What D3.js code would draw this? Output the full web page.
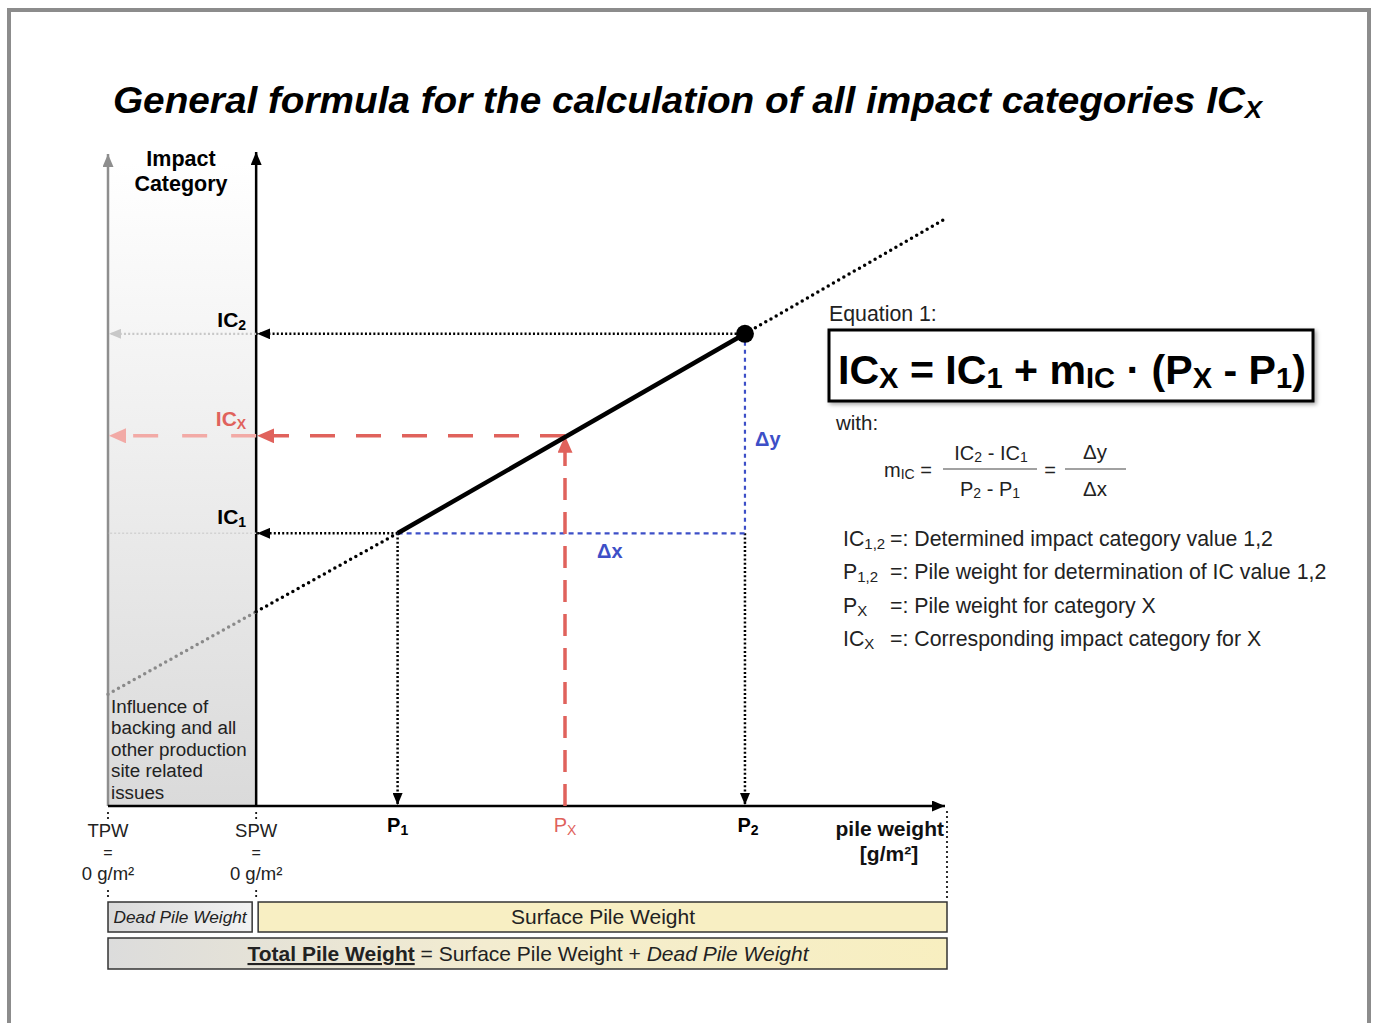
<!DOCTYPE html>
<html><head><meta charset="utf-8">
<script src="https://cdn.jsdelivr.net/npm/d3@7"></script>
<style>
html,body{margin:0;padding:0;background:#fff;}
svg{display:block;font-family:"Liberation Sans",Arial,Helvetica,sans-serif;}
</style></head>
<body>
<svg id="chart" width="1374" height="1023"></svg>
<script>
// ---------- data (arbitrary units) ----------
const pileKeys    = ["TPW", "SPW", "P1", "PX", "P2", "END"];
const pileWeights = [0, 17.7, 34.6, 54.6, 76.1, 100];
const impactKeys   = ["IC1", "ICX", "IC2"];
const impactValues = [41.7, 56.6, 72.2];
// regression line through (P1,IC1) and (P2,IC2) with its dotted extensions
const lineX = [0, 17.7, 34.6, 76.1, 99.8];
const lineY = [17.1, 29.7, 41.7, 72.2, 89.6];
const definitions = [
  {sym:["IC","1,2"], text:"=: Determined impact category value 1,2"},
  {sym:["P","1,2"],  text:"=: Pile weight for determination of IC value 1,2"},
  {sym:["P","X"],    text:"=: Pile weight for category X"},
  {sym:["IC","X"],   text:"=: Corresponding impact category for X"}
];
const influenceText = ["Influence of","backing and all","other production","site related","issues"];

const P = k => pileWeights[pileKeys.indexOf(k)];
const I = k => impactValues[impactKeys.indexOf(k)];

// ---------- scales ----------
const x = d3.scaleLinear().domain([0, 100]).range([108, 945]);
const y = d3.scaleLinear().domain([0, 100]).range([806, 152]);

const svg = d3.select("#chart");
const defs = svg.append("defs");

// gradients
const g1 = defs.append("linearGradient").attr("id","panelGrad").attr("x1",0).attr("y1",0).attr("x2",0).attr("y2",1);
g1.append("stop").attr("offset","0%").attr("stop-color","#ffffff");
g1.append("stop").attr("offset","100%").attr("stop-color","#dadada");
const g2 = defs.append("linearGradient").attr("id","deadGrad").attr("x1",0).attr("y1",0).attr("x2",1).attr("y2",0);
g2.append("stop").attr("offset","0%").attr("stop-color","#dadada");
g2.append("stop").attr("offset","100%").attr("stop-color","#f2f2f2");
const g3 = defs.append("linearGradient").attr("id","totalGrad").attr("x1",0).attr("y1",0).attr("x2",1).attr("y2",0);
g3.append("stop").attr("offset","0%").attr("stop-color","#dcdcdc");
g3.append("stop").attr("offset","45%").attr("stop-color","#f3ecd0");
g3.append("stop").attr("offset","100%").attr("stop-color","#f8efc0");
const sh = defs.append("filter").attr("id","shadow").attr("x","-5%").attr("y","-10%").attr("width","115%").attr("height","130%");
sh.append("feDropShadow").attr("dx",2).attr("dy",2).attr("stdDeviation",2).attr("flood-color","#000").attr("flood-opacity",0.35);

function marker(id, color, w, h){
  defs.append("marker").attr("id",id)
    .attr("viewBox",`0 0 ${w} ${h}`).attr("refX",w).attr("refY",h/2)
    .attr("markerWidth",w).attr("markerHeight",h)
    .attr("markerUnits","userSpaceOnUse").attr("orient","auto")
    .append("path").attr("d",`M0,0L${w},${h/2}L0,${h}Z`).attr("fill",color);
}
marker("arrBlack","#000",13,11);
marker("arrBlackSm","#000",12,10);
marker("arrGray","#8e8e8e",13,11);
marker("arrLight","#c8c8c8",12,10);
marker("arrRed","#e0625c",17,15);
marker("arrPink","#f2aaa6",17,15);

// frame
svg.append("path").attr("d","M9,1023V10H1369V1023").attr("fill","none").attr("stroke","#8c8c8c").attr("stroke-width",4);

// title
const title = svg.append("text").attr("x",113).attr("y",113)
  .attr("font-size",36).attr("font-weight","bold").attr("font-style","italic").attr("fill","#000");
title.append("tspan").text("General formula for the calculation of all impact categories IC");
title.append("tspan").attr("font-size",24).attr("dy",5).text("X");
{
  const w = title.node().getBBox().width, target = 1152;
  title.attr("transform",`translate(113,0) scale(${target/w},1) translate(-113,0)`);
}

// shaded panel between TPW and SPW
svg.append("rect").attr("x",x(P("TPW"))).attr("y",y(98.5)).attr("width",x(P("SPW"))-x(P("TPW"))).attr("height",y(0)-y(98.5))
  .attr("fill","url(#panelGrad)");

// gray TPW axis
svg.append("line").attr("x1",x(P("TPW"))).attr("x2",x(P("TPW"))).attr("y1",y(0)).attr("y2",y(100)+2)
  .attr("stroke","#8e8e8e").attr("stroke-width",2.5).attr("marker-end","url(#arrGray)");
// SPW y-axis
svg.append("line").attr("x1",x(P("SPW"))).attr("x2",x(P("SPW"))).attr("y1",y(0)+1).attr("y2",y(100))
  .attr("stroke","#000").attr("stroke-width",2.5).attr("marker-end","url(#arrBlack)");
// x-axis
svg.append("line").attr("x1",x(P("TPW"))).attr("x2",x(P("END"))).attr("y1",y(0)).attr("y2",y(0))
  .attr("stroke","#000").attr("stroke-width",2.5).attr("marker-end","url(#arrBlack)");

// ---- horizontal projection lines ----
// IC2
svg.append("line").attr("x1",x(P("P2"))).attr("x2",x(P("SPW"))+1).attr("y1",y(I("IC2"))).attr("y2",y(I("IC2")))
  .attr("stroke","#000").attr("stroke-width",2.5).attr("stroke-dasharray","2,2.2").attr("marker-end","url(#arrBlack)");
svg.append("line").attr("x1",x(P("SPW"))).attr("x2",x(P("TPW"))+1).attr("y1",y(I("IC2"))).attr("y2",y(I("IC2")))
  .attr("stroke","#c8c8c8").attr("stroke-width",2.2).attr("stroke-dasharray","2,2.2").attr("marker-end","url(#arrLight)");
// IC1
svg.append("line").attr("x1",x(P("P1"))).attr("x2",x(P("SPW"))+1).attr("y1",y(I("IC1"))).attr("y2",y(I("IC1")))
  .attr("stroke","#000").attr("stroke-width",2.5).attr("stroke-dasharray","2,2.2").attr("marker-end","url(#arrBlack)");
svg.append("line").attr("x1",x(P("SPW"))).attr("x2",x(P("TPW"))).attr("y1",y(I("IC1"))).attr("y2",y(I("IC1")))
  .attr("stroke","#d2d2d2").attr("stroke-width",1.6).attr("stroke-dasharray","2,2");
// ICX (red dashed)
svg.append("line").attr("x1",x(P("PX"))).attr("x2",x(P("SPW"))+1).attr("y1",y(I("ICX"))).attr("y2",y(I("ICX")))
  .attr("stroke","#e0625c").attr("stroke-width",3.5).attr("stroke-dasharray","25,21").attr("marker-end","url(#arrRed)");
svg.append("line").attr("x1",x(P("SPW"))).attr("x2",x(P("TPW"))+1).attr("y1",y(I("ICX"))).attr("y2",y(I("ICX")))
  .attr("stroke","#f2aaa6").attr("stroke-width",3.5).attr("stroke-dasharray","25,24").attr("marker-end","url(#arrPink)");

// ---- vertical projection lines ----
svg.append("line").attr("x1",x(P("P1"))).attr("x2",x(P("P1"))).attr("y1",y(I("IC1"))).attr("y2",y(0)-1)
  .attr("stroke","#000").attr("stroke-width",2.5).attr("stroke-dasharray","2,2.2").attr("marker-end","url(#arrBlackSm)");
svg.append("line").attr("x1",x(P("P2"))).attr("x2",x(P("P2"))).attr("y1",y(I("IC1"))).attr("y2",y(0)-1)
  .attr("stroke","#000").attr("stroke-width",2.5).attr("stroke-dasharray","2,2.2").attr("marker-end","url(#arrBlackSm)");
// Δy (blue)
svg.append("line").attr("x1",x(P("P2"))).attr("x2",x(P("P2"))).attr("y1",y(I("IC2"))+8).attr("y2",y(I("IC1")))
  .attr("stroke","#3d4fc7").attr("stroke-width",2.2).attr("stroke-dasharray","4,4");
// Δx (blue)
svg.append("line").attr("x1",x(P("P1"))).attr("x2",x(P("P2"))).attr("y1",y(I("IC1"))).attr("y2",y(I("IC1")))
  .attr("stroke","#3d4fc7").attr("stroke-width",2.2).attr("stroke-dasharray","5,4");
// Px (red dashed, upward)
svg.append("line").attr("x1",x(P("PX"))).attr("x2",x(P("PX"))).attr("y1",y(0)).attr("y2",y(I("ICX")))
  .attr("stroke","#e0625c").attr("stroke-width",3.5).attr("stroke-dasharray","22,12").attr("marker-end","url(#arrRed)");

// ---- regression line ----
const pts = lineX.map((v,i)=>[v,lineY[i]]);
const ln = d3.line().x(d=>x(d[0])).y(d=>y(d[1]));
svg.append("path").attr("d",ln([pts[0],pts[1]])).attr("stroke","#8a8a8a").attr("stroke-width",3.5)
  .attr("stroke-dasharray","0,6").attr("stroke-linecap","round").attr("fill","none");
svg.append("path").attr("d",ln([pts[1],pts[2]])).attr("stroke","#000").attr("stroke-width",3.5)
  .attr("stroke-dasharray","0,6").attr("stroke-linecap","round").attr("fill","none");
svg.append("path").attr("d",ln([pts[3],pts[4]])).attr("stroke","#000").attr("stroke-width",3.5)
  .attr("stroke-dasharray","0,6").attr("stroke-linecap","round").attr("fill","none");
svg.append("path").attr("d",ln([pts[2],pts[3]])).attr("stroke","#000").attr("stroke-width",4.5).attr("fill","none");
svg.append("circle").attr("cx",x(P("P2"))).attr("cy",y(I("IC2"))).attr("r",9).attr("fill","#000");

// ---- small dotted guide ticks ----
function vdots(xx,y1,y2){
  svg.append("line").attr("x1",xx).attr("x2",xx).attr("y1",y1).attr("y2",y2)
    .attr("stroke","#000").attr("stroke-width",2.2).attr("stroke-dasharray","0,5").attr("stroke-linecap","round");
}
vdots(x(P("TPW")), y(0)+7, y(0)+16);
vdots(x(P("SPW")), y(0)+7, y(0)+16);
vdots(x(P("TPW")), 891, 900);
vdots(x(P("SPW")), 891, 900);
vdots(x(P("END"))+2, y(0)+6, 900);

// y labels
svg.append("text").attr("x",181).attr("y",166).attr("text-anchor","middle").attr("font-size",21.5).attr("font-weight","bold").text("Impact");
svg.append("text").attr("x",181).attr("y",191).attr("text-anchor","middle").attr("font-size",21.5).attr("font-weight","bold").text("Category");

const icLab = [{k:"IC2",s:"2",c:"#000",dy:-7},{k:"ICX",s:"X",c:"#e0625c",dy:-10},{k:"IC1",s:"1",c:"#000",dy:-9}];
icLab.forEach(d=>{
  const t = svg.append("text").attr("x",x(P("SPW"))-10).attr("y",y(I(d.k))+d.dy).attr("text-anchor","end")
    .attr("font-size",21).attr("font-weight","bold").attr("fill",d.c);
  t.append("tspan").text("IC");
  t.append("tspan").attr("font-size",14).attr("dy",3).text(d.s);
});

// x labels
[{k:"P1",s:"1",c:"#000",fw:"bold"},{k:"PX",s:"X",c:"#e0625c",fw:"normal"},{k:"P2",s:"2",c:"#000",fw:"bold"}].forEach(d=>{
  const t = svg.append("text").attr("x",x(P(d.k))+(d.k==="P2"?3:0)).attr("y",832).attr("text-anchor","middle")
    .attr("font-size",20).attr("font-weight",d.fw).attr("fill",d.c);
  t.append("tspan").text("P");
  t.append("tspan").attr("font-size",14).attr("dy",3).text(d.s);
});
svg.append("text").attr("x",944).attr("y",836).attr("text-anchor","end").attr("font-size",21).attr("font-weight","bold").attr("fill","#111").text("pile weight");
svg.append("text").attr("x",889).attr("y",861).attr("text-anchor","middle").attr("font-size",21).attr("font-weight","bold").attr("fill","#111").text("[g/m²]");

["TPW","SPW"].forEach(k=>{
  const xx = x(P(k));
  svg.append("text").attr("x",xx).attr("y",837).attr("text-anchor","middle").attr("font-size",18.5).attr("fill","#222").text(k);
  svg.append("text").attr("x",xx).attr("y",858).attr("text-anchor","middle").attr("font-size",16).attr("fill","#222").text("=");
  svg.append("text").attr("x",xx).attr("y",880).attr("text-anchor","middle").attr("font-size",18.5).attr("fill","#222").text("0 g/m²");
});

// influence text
influenceText.forEach((s,i)=>{
  svg.append("text").attr("x",111).attr("y",713+i*21.4).attr("font-size",18.8).attr("fill","#222").text(s);
});

// Δ labels
svg.append("text").attr("x",755).attr("y",446).attr("font-size",20).attr("font-weight","bold").attr("fill","#3d4fc7").text("Δy");
svg.append("text").attr("x",597).attr("y",558).attr("font-size",20).attr("font-weight","bold").attr("fill","#3d4fc7").text("Δx");

// ---- bottom bars ----
svg.append("rect").attr("x",x(P("TPW"))).attr("y",902).attr("width",x(P("SPW"))-4-x(P("TPW"))).attr("height",30)
  .attr("fill","url(#deadGrad)").attr("stroke","#333").attr("stroke-width",1.5);
svg.append("text").attr("x",(x(P("TPW"))+x(P("SPW"))-4)/2).attr("y",923).attr("text-anchor","middle")
  .attr("font-size",17.3).attr("font-style","italic").attr("fill","#222").text("Dead Pile Weight");
svg.append("rect").attr("x",x(P("SPW"))+2).attr("y",902).attr("width",x(P("END"))+2-x(P("SPW"))-2).attr("height",30)
  .attr("fill","#f8efc3").attr("stroke","#333").attr("stroke-width",1.5);
svg.append("text").attr("x",603).attr("y",924).attr("text-anchor","middle").attr("font-size",21).attr("fill","#222").text("Surface Pile Weight");
svg.append("rect").attr("x",x(P("TPW"))).attr("y",938).attr("width",x(P("END"))+2-x(P("TPW"))).attr("height",31)
  .attr("fill","url(#totalGrad)").attr("stroke","#333").attr("stroke-width",1.5);
const tot = svg.append("text").attr("x",528).attr("y",961).attr("text-anchor","middle").attr("font-size",21).attr("fill","#222");
tot.append("tspan").attr("font-weight","bold").attr("text-decoration","underline").text("Total Pile Weight");
tot.append("tspan").text(" = Surface Pile Weight + ");
tot.append("tspan").attr("font-style","italic").text("Dead Pile Weight");

// ---- equation panel ----
svg.append("text").attr("x",829).attr("y",321).attr("font-size",21.3).attr("fill","#222").text("Equation 1:");
svg.append("rect").attr("x",829).attr("y",330).attr("width",484).attr("height",71)
  .attr("fill","#fff").attr("stroke","#000").attr("stroke-width",3).attr("filter","url(#shadow)");
const eq = svg.append("text").attr("x",838).attr("y",384).attr("font-size",41).attr("font-weight","bold").attr("fill","#000");
eq.append("tspan").text("IC");
eq.append("tspan").attr("font-size",29).attr("dy",4).text("X");
eq.append("tspan").attr("dy",-4).text(" = IC");
eq.append("tspan").attr("font-size",29).attr("dy",4).text("1");
eq.append("tspan").attr("dy",-4).text(" + m");
eq.append("tspan").attr("font-size",29).attr("dy",4).text("IC");
eq.append("tspan").attr("dy",-4).text(" · (P");
eq.append("tspan").attr("font-size",29).attr("dy",4).text("X");
eq.append("tspan").attr("dy",-4).text(" - P");
eq.append("tspan").attr("font-size",29).attr("dy",4).text("1");
eq.append("tspan").attr("dy",-4).text(")");
{
  const w = eq.node().getBBox().width, target = 468;
  eq.attr("transform",`translate(838,0) scale(${target/w},1) translate(-838,0)`);
}
svg.append("text").attr("x",836).attr("y",430).attr("font-size",20.5).attr("fill","#222").text("with:");

// m_IC fraction
const m = svg.append("text").attr("x",884).attr("y",477).attr("font-size",20).attr("fill","#222");
m.append("tspan").text("m");
m.append("tspan").attr("font-size",14).attr("dy",2).text("IC");
m.append("tspan").attr("dy",-2).text(" =");
svg.append("line").attr("x1",943).attr("x2",1037).attr("y1",469).attr("y2",469).attr("stroke","#444").attr("stroke-width",1.2);
const num = svg.append("text").attr("x",991).attr("y",460).attr("text-anchor","middle").attr("font-size",20).attr("fill","#222");
num.append("tspan").text("IC"); num.append("tspan").attr("font-size",14).attr("dy",2).text("2");
num.append("tspan").attr("dy",-2).text(" - IC"); num.append("tspan").attr("font-size",14).attr("dy",2).text("1");
const den = svg.append("text").attr("x",990).attr("y",496).attr("text-anchor","middle").attr("font-size",20).attr("fill","#222");
den.append("tspan").text("P"); den.append("tspan").attr("font-size",14).attr("dy",2).text("2");
den.append("tspan").attr("dy",-2).text(" - P"); den.append("tspan").attr("font-size",14).attr("dy",2).text("1");
svg.append("text").attr("x",1050).attr("y",477).attr("text-anchor","middle").attr("font-size",20).attr("fill","#222").text("=");
svg.append("line").attr("x1",1065).attr("x2",1126).attr("y1",469).attr("y2",469).attr("stroke","#444").attr("stroke-width",1.2);
svg.append("text").attr("x",1095).attr("y",459).attr("text-anchor","middle").attr("font-size",20.5).attr("fill","#222").text("Δy");
svg.append("text").attr("x",1095).attr("y",496).attr("text-anchor","middle").attr("font-size",20.5).attr("fill","#222").text("Δx");

// definitions
definitions.forEach((d,i)=>{
  const yy = 546 + i*33.4;
  const t = svg.append("text").attr("x",843).attr("y",yy).attr("font-size",21.3).attr("fill","#222");
  t.append("tspan").text(d.sym[0]);
  t.append("tspan").attr("font-size",15).attr("dy",3).text(d.sym[1]);
  svg.append("text").attr("x",890).attr("y",yy).attr("font-size",21.3).attr("fill","#222").text(d.text);
});
</script>
</body></html>
